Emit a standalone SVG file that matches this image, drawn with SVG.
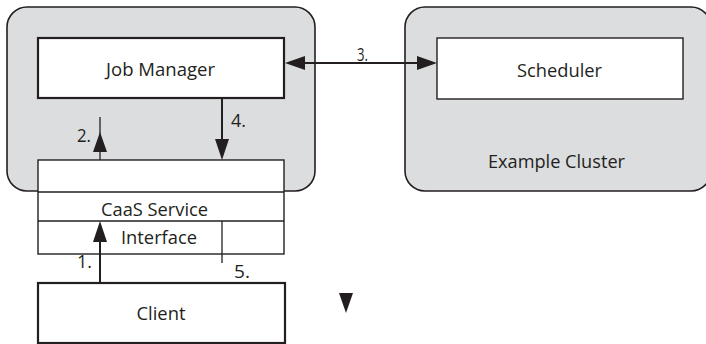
<svg xmlns="http://www.w3.org/2000/svg" width="706" height="344" viewBox="0 0 706 344">
<style>
.cluster{fill:#dcdddf;stroke:#231f20;stroke-width:1.6}
.box{fill:#fff;stroke:#231f20}
.thick{stroke-width:2.2}
.thin{stroke-width:1.4}
text{font-family:"Open Sans","Liberation Sans",sans-serif;font-size:18px;fill:#231f20}
.lbl{text-anchor:middle}
.conn line{stroke:#231f20;stroke-width:2}
.conn .th{stroke-width:1.3}
.head{fill:#231f20}
</style>
<rect width="706" height="344" fill="#fff"/>
<g id="cluster-left"><rect class="cluster" x="7" y="7" width="308" height="184" rx="20"/></g>
<g id="cluster-right"><rect class="cluster" x="405" y="7" width="306" height="184" rx="20"/>
<text class="lbl" x="556.5" y="168" textLength="137" lengthAdjust="spacingAndGlyphs">Example Cluster</text></g>
<g id="job-manager"><rect class="box thick" x="38" y="38" width="246" height="60"/>
<text class="lbl" x="160.5" y="76" textLength="109" lengthAdjust="spacingAndGlyphs">Job Manager</text></g>
<g id="scheduler"><rect class="box thin" x="437" y="38" width="246" height="61"/>
<text class="lbl" x="559.5" y="77" textLength="85" lengthAdjust="spacingAndGlyphs">Scheduler</text></g>
<g id="caas-service">
<rect class="box thin" x="38" y="160" width="246" height="94"/>
<line x1="38" y1="192" x2="284" y2="192" stroke="#231f20" stroke-width="1.4"/>
<line x1="38" y1="221" x2="284" y2="221" stroke="#231f20" stroke-width="1.4"/>
<text class="lbl" x="154.5" y="216" textLength="107" lengthAdjust="spacingAndGlyphs">CaaS Service</text>
<text class="lbl" x="159" y="244" textLength="76" lengthAdjust="spacingAndGlyphs">Interface</text>
</g>
<g id="client"><rect class="box thick" x="38" y="283" width="247" height="60"/>
<text class="lbl" x="161" y="320" textLength="49" lengthAdjust="spacingAndGlyphs">Client</text></g>
<g id="connectors" class="conn">
<line x1="100" y1="160" x2="100" y2="117" class="th"/>
<polygon class="head" points="100,132 107,152 93,152"/>
<text x="77" y="142" textLength="14" lengthAdjust="spacingAndGlyphs">2.</text>
<line x1="222" y1="98" x2="222" y2="145"/>
<polygon class="head" points="222,160 215,139 229,139"/>
<text x="231" y="127" textLength="15" lengthAdjust="spacingAndGlyphs">4.</text>
<line x1="300" y1="63" x2="422" y2="63"/>
<polygon class="head" points="285,63 305,56 305,70"/>
<polygon class="head" points="437,63 417,56 417,70"/>
<text x="357" y="61" textLength="11" lengthAdjust="spacingAndGlyphs">3.</text>
<line x1="100" y1="283" x2="100" y2="238"/>
<polygon class="head" points="100,221 107,242 93,242"/>
<text x="77" y="268" textLength="15" lengthAdjust="spacingAndGlyphs">1.</text>
<line x1="222" y1="221" x2="222" y2="263" class="th"/>
<text x="234" y="278" textLength="16" lengthAdjust="spacingAndGlyphs">5.</text>
<polygon class="head" points="339,293 353,293 346,313"/>
</g>
</svg>
